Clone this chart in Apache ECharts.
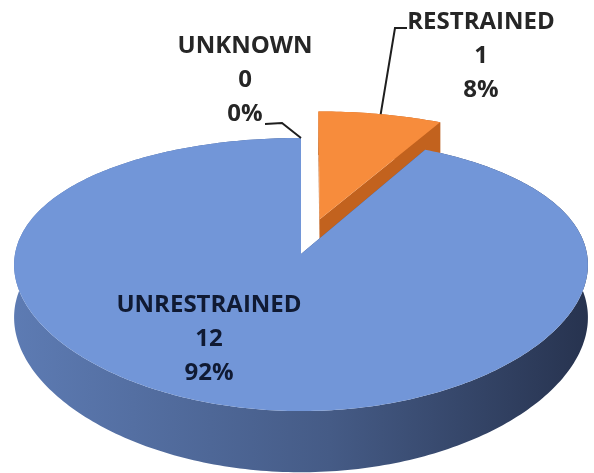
<!DOCTYPE html>
<html>
<head>
<meta charset="utf-8">
<script src="https://cdn.jsdelivr.net/npm/echarts@6/dist/echarts.min.js"></script>
<style>
  html, body { margin: 0; padding: 0; background: #fff; }
  #main { width: 594px; height: 473px; }
</style>
</head>
<body>
<div id="main"></div>
<script>
// 数据
const categories = ['UNKNOWN', 'RESTRAINED', 'UNRESTRAINED'];
const counts = [0, 1, 12];
const explode = [0, 0.28, 0];

// 颜色
const topColors = ['#a5a5a5', '#f78c3c', '#7296d8'];
const sideColors = [
  ['#8c8c8c', '#5a5a5a'],
  ['#d0691f', '#b0561a'],
  ['#5d7bb3', '#27334f']
];
const cutColors = ['#7a7a7a', '#c2621e', '#3d5587'];

// 伪3D视角 (x、y 方向透视不同)
const view = { cx: 301, cy: 254, A: 286, B: 133.5, px: 0.08, py: 0.15, D: 52 };

// 标签位置
const labelLayout = {
  UNKNOWN: { at: [245, 80], color: '#262626', leader: [[265, 124], [282, 123]] },
  RESTRAINED: { at: [481, 56], color: '#262626', leader: [[407, 28], [395, 28]] },
  UNRESTRAINED: { at: [209, 339], color: '#101a33', leader: null }
};

const total = counts.reduce((a, b) => a + b, 0);
let acc = 0;
const slices = counts.map((v, i) => {
  const s = acc / total * 360;
  acc += v;
  return { start: s, end: acc / total * 360 };
});

function proj(X, Z, h) {
  const sx = 1 / (1 + view.px * Z);
  const sy = 1 / (1 + view.py * Z);
  return [view.cx + view.A * X * sx, view.cy - view.B * Z * sy + h * view.D * sy];
}

function renderItem(params, api) {
  const i = params.dataIndex;
  const name = categories[i];
  const a0 = slices[i].start, a1 = slices[i].end;
  const mid = (a0 + a1) / 2 * Math.PI / 180;
  const ex = explode[i] * Math.sin(mid), ez = explode[i] * Math.cos(mid);
  const pt = (r, deg, h) => {
    const t = deg * Math.PI / 180;
    return proj(r * Math.sin(t) + ex, r * Math.cos(t) + ez, h);
  };
  const children = [];

  if (a1 > a0) {
    const n = Math.max(2, Math.ceil((a1 - a0) / 1));
    const topArc = [], botArc = [];
    for (let k = 0; k <= n; k++) {
      const d = a0 + (a1 - a0) * k / n;
      topArc.push(pt(1, d, 0));
      botArc.push(pt(1, d, 1));
    }
    // 侧面
    children.push({
      type: 'polygon',
      shape: { points: topArc.concat(botArc.slice().reverse()) },
      style: {
        fill: new echarts.graphic.LinearGradient(0, 0, 1, 0, [
          { offset: 0, color: sideColors[i][0] },
          { offset: 0.55, color: echarts.color.lerp(0.45, sideColors[i]) },
          { offset: 1, color: sideColors[i][1] }
        ])
      },
      z2: 1
    });
    // 切面
    [a0, a1].forEach(a => {
      children.push({
        type: 'polygon',
        shape: { points: [pt(0, a, 0), pt(1, a, 0), pt(1, a, 1), pt(0, a, 1)] },
        style: { fill: cutColors[i] },
        z2: 2
      });
    });
    // 顶面
    children.push({
      type: 'polygon',
      shape: { points: [pt(0, a0, 0)].concat(topArc) },
      style: { fill: topColors[i] },
      z2: 5 + i
    });
  }

  // 标签
  const lay = labelLayout[name];
  const v = api.value(0);
  const pct = Math.round(v / total * 100);
  children.push({
    type: 'text',
    x: lay.at[0],
    y: lay.at[1],
    style: {
      text: name + '\n' + v + '\n' + pct + '%',
      fill: lay.color,
      font: 'bold 24px "Open Sans"',
      align: 'center',
      verticalAlign: 'middle',
      lineHeight: 34
    },
    z2: 30
  });
  if (lay.leader) {
    const anchor = pt(1, (a0 + a1) / 2, 0);
    children.push({
      type: 'polyline',
      shape: { points: lay.leader.concat([anchor]) },
      style: { stroke: '#1e1e1e', lineWidth: 2, fill: null },
      z2: 30
    });
  }
  return { type: 'group', children: children };
}

const chart = echarts.init(document.getElementById('main'));
chart.setOption({
  animation: false,
  series: [{
    type: 'custom',
    coordinateSystem: 'none',
    renderItem: renderItem,
    data: categories.map((c, i) => ({ name: c, value: [counts[i]] }))
  }]
});
</script>
</body>
</html>
